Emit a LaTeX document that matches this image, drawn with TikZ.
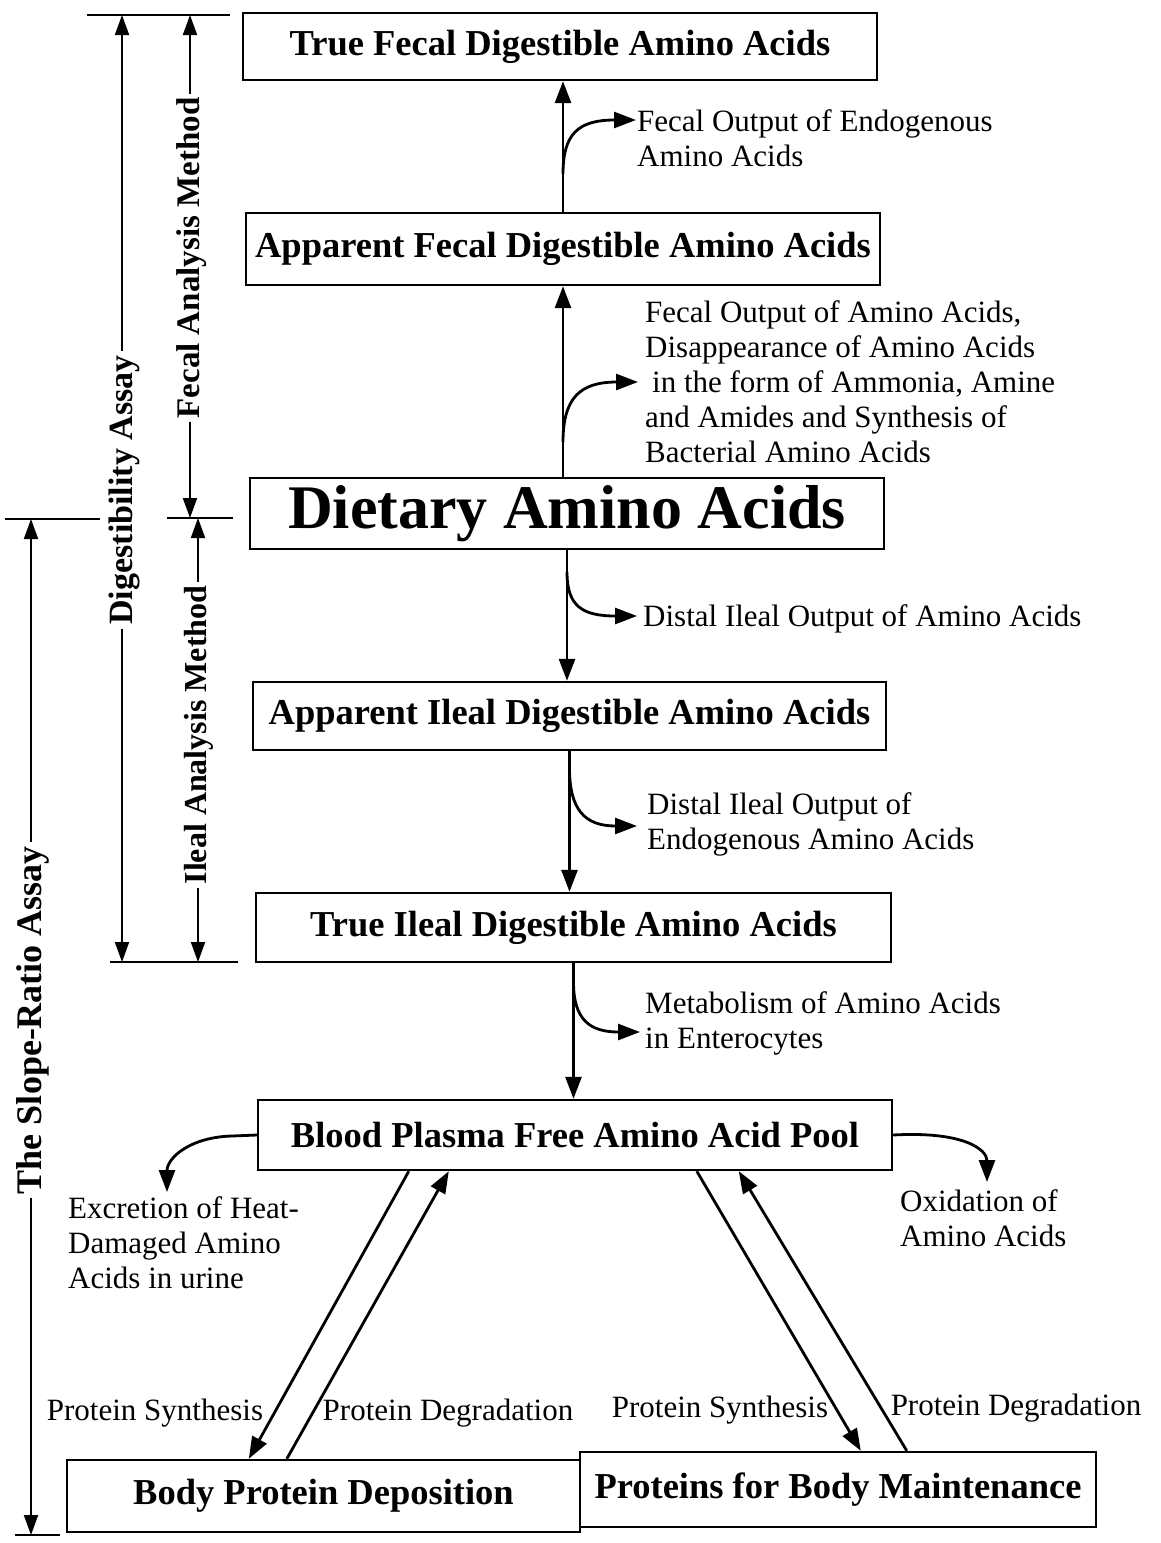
\documentclass[tikz,border=0pt]{standalone}
\usepackage{fontspec}
\setmainfont{Liberation Serif}
\usetikzlibrary{arrows.meta,calc}
\newcommand\bxf{\fontsize{36.5}{40}\selectfont\bfseries}
\newcommand\bigbxf{\fontsize{62}{66}\selectfont\bfseries}
\newcommand\lbf{\fontsize{31}{35}\selectfont}
\begin{document}
\begin{tikzpicture}[x=1pt,y=-1pt,
  box/.style={draw,line width=2.4pt,rectangle,inner sep=0pt,font=\bxf},
  lab/.style={font=\lbf,align=left,inner sep=0pt,anchor=north west},
  plab/.style={font=\lbf,inner sep=0pt},
  side/.style={rotate=90,fill=white,inner xsep=4pt,inner ysep=0pt},
  arr/.style={line width=2.8pt,-{Triangle[length=22pt,width=16pt]}},
  dim/.style={line width=1.9pt},
  dimarr/.style={line width=1.9pt,{Triangle[length=20pt,width=14pt]}-{Triangle[length=20pt,width=14pt]}}]
\useasboundingbox (0,0) rectangle (1160,1543);
\fill[white] (0,0) rectangle (1160,1543);

% boxes
\node[box,minimum width=634pt,minimum height=67pt] (tf) at (560,46.5) {True Fecal Digestible Amino Acids};
\node[box,minimum width=634pt,minimum height=72pt] (af) at (563,249) {Apparent Fecal Digestible Amino Acids};
\node[box,minimum width=634pt,minimum height=71pt,font=\bigbxf] (diet) at (567,513.5) {\raisebox{-4pt}{Dietary Amino Acids}};
\node[box,minimum width=633pt,minimum height=68pt] (ai) at (569.5,716) {Apparent Ileal Digestible Amino Acids};
\node[box,minimum width=635pt,minimum height=69pt] (ti) at (573.5,927.5) {True Ileal Digestible Amino Acids};
\node[box,minimum width=634pt,minimum height=70pt] (blood) at (575,1135) {Blood Plasma Free Amino Acid Pool};
\node[box,minimum width=513pt,minimum height=72pt] (bpd) at (323.5,1496) {Body Protein Deposition};
\node[box,minimum width=516pt,minimum height=75pt] (pbm) at (838,1489.5) {Proteins for Body Maintenance};

% spine arrows
\draw[arr] (af.north) -- (af.north |- tf.south);
\draw[arr] (af.south |- diet.north) -- (af.south);
\draw[arr] (diet.south) -- (diet.south |- ai.north);
\draw[arr] (ai.south) -- (ai.south |- ti.north);
\draw[arr] (ti.south) -- (ti.south |- blood.north);

% side-output labels
\node[lab] (fo1) at (637,109) {Fecal Output of Endogenous\\Amino Acids};
\node[lab] (fo2) at (645,300) {Fecal Output of Amino Acids,\\Disappearance of Amino Acids\\\hspace*{7pt}in the form of Ammonia, Amine\\and Amides and Synthesis of\\Bacterial Amino Acids};
\node[lab] (fo3) at (643,604) {Distal Ileal Output of Amino Acids};
\node[lab] (fo4) at (647,792) {Distal Ileal Output of\\Endogenous Amino Acids};
\node[lab] (fo5) at (645,991) {Metabolism of Amino Acids\\in Enterocytes};
\node[lab] (exc) at (68,1196) {Excretion of Heat-\\Damaged Amino\\Acids in urine};
\node[lab] (oxi) at (900,1189) {Oxidation of\\Amino Acids};

% branch coordinates
\coordinate (b1s) at (563,174);
\coordinate (b1t) at (636,120);
\coordinate (b2s) at (563,442);
\coordinate (b2t) at (638,382);
\coordinate (b3s) at (567,572);
\coordinate (b3t) at (637,616);
\coordinate (b4s) at (569.5,768);
\coordinate (b4t) at (637,826);
\coordinate (b5s) at (573.5,982);
\coordinate (b5t) at (640,1032);
\coordinate (excb) at (232,1136);
\coordinate (exct) at (167,1192);
\coordinate (oxit) at (987,1182);

\draw[arr] (b1s) .. controls (563,134) and (578,120) .. (b1t);
\draw[arr] (b2s) .. controls (563,398) and (580,382) .. (b2t);
\draw[arr] (b3s) .. controls (567,606) and (582,616) .. (b3t);
\draw[arr] (b4s) .. controls (569.5,810) and (585,826) .. (b4t);
\draw[arr] (b5s) .. controls (573.5,1020) and (590,1032) .. (b5t);
\draw[arr] (blood.west) -- (excb) .. controls (190,1137) and (167,1158) .. (exct);
\draw[arr] (blood.east) .. controls (965,1131) and (987,1150) .. (oxit);

% diagonal arrows
\draw[arr] ([xshift=152pt]blood.south west) -- ([xshift=183pt]bpd.north west);
\draw[arr] ([xshift=221pt]bpd.north west) -- ([xshift=192pt]blood.south west);
\draw[arr] ([xshift=440pt]blood.south west) -- ([xshift=282pt]pbm.north west);
\draw[arr] ([xshift=328pt]pbm.north west) -- ([xshift=482pt]blood.south west);

\node[plab] (ps1) at (155,1413) {Protein Synthesis};
\node[plab] (pd1) at (448,1413) {Protein Degradation};
\node[plab] (ps2) at (720,1410) {Protein Synthesis};
\node[plab] (pd2) at (1016,1408) {Protein Degradation};

% dimension ticks
\coordinate (h1a) at (87,15);   \coordinate (h1b) at (230,15);
\coordinate (h2a) at (167,518); \coordinate (h2b) at (233,518);
\coordinate (h3a) at (5,519);   \coordinate (h3b) at (100,519);
\coordinate (h4a) at (110,962); \coordinate (h4b) at (238,962);
\coordinate (h5a) at (15,1535); \coordinate (h5b) at (60,1535);
\draw[dim] (h1a) -- (h1b);
\draw[dim] (h2a) -- (h2b);
\draw[dim] (h3a) -- (h3b);
\draw[dim] (h4a) -- (h4b);
\draw[dim] (h5a) -- (h5b);

% dimension lines
\coordinate (dgT) at (122,15);  \coordinate (dgB) at (122,962);
\coordinate (fcT) at (190,15);  \coordinate (fcB) at (190,518);
\coordinate (ilT) at (198,518); \coordinate (ilB) at (198,962);
\coordinate (slT) at (31,519);  \coordinate (slB) at (31,1535);
\draw[dimarr] (dgT) -- (dgB);
\draw[dimarr] (fcT) -- (fcB);
\draw[dimarr] (ilT) -- (ilB);
\draw[dimarr] (slT) -- (slB);

\node[side,font=\fontsize{34}{38}\selectfont\bfseries] (ldg) at (124,490) {Digestibility Assay};
\node[side,font=\fontsize{33}{37}\selectfont\bfseries] (lfc) at (192,258) {Fecal Analysis Method};
\node[side,font=\fontsize{32}{36}\selectfont\bfseries] (lil) at (199,735) {Ileal Analysis Method};
\node[side,font=\fontsize{36}{40}\selectfont\bfseries] (lsl) at (33,1020) {The Slope-Ratio Assay};
\end{tikzpicture}
\end{document}
